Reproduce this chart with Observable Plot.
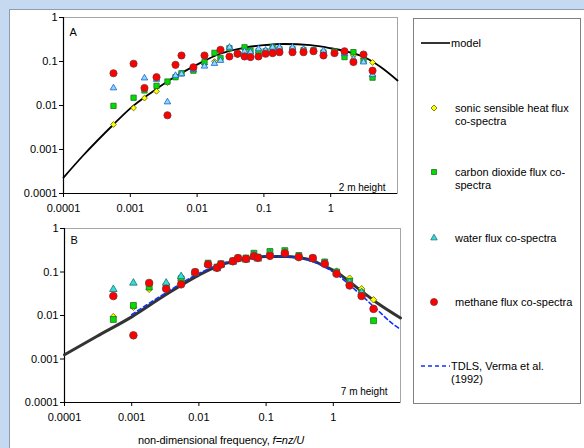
<!DOCTYPE html>
<html><head><meta charset="utf-8">
<script src="https://cdn.jsdelivr.net/npm/d3@7"></script>
<script src="https://cdn.jsdelivr.net/npm/@observablehq/plot@0.6"></script>
<style>
html,body{margin:0;padding:0;}
body{width:584px;height:448px;background:#c5d9f1;position:relative;overflow:hidden;font-family:"Liberation Sans",Arial,sans-serif;}
#sheet{position:absolute;left:9px;top:9px;width:600px;height:460px;background:#fff;border-left:1px solid #8e9bb0;border-top:1px solid #8e9bb0;}
.abs{position:absolute;}
#xt{position:absolute;left:0;width:442px;text-align:center;top:434px;font-size:11px;line-height:13px;color:#000;white-space:nowrap;letter-spacing:-0.1px;}
</style></head><body>
<div id="sheet"></div>
<div id="pa" class="abs" style="left:0;top:0"></div>
<div id="pb" class="abs" style="left:0;top:215px"></div>
<div id="leg" class="abs" style="left:0;top:0"></div>
<div id="xt">non-dimensional frequency, <i>f=nz/U</i></div>
<script>
// ---------- data ----------
const seriesNames = ["model", "sonic sensible heat flux co-spectra", "carbon dioxide flux co-spectra", "water flux co-spectra", "methane flux co-spectra", "TDLS, Verma et al. (1992)"];
const tickValues = [1e-4, 1e-3, 1e-2, 0.1, 1];
const tickLabels = ["0.0001", "0.001", "0.01", "0.1", "1"];
const panelLabels = ["A", "B"];
const heightLabels = ["2 m height", "7 m height"];

// Panel A (2 m)
const freqA = [5.6e-4, 1.12e-3, 1.63e-3, 2.47e-3, 3.6e-3, 4.75e-3, 5.84e-3, 8.8e-3, 0.0129, 0.0182, 0.0224, 0.0305, 0.0403, 0.0513, 0.063, 0.083, 0.106, 0.135, 0.171, 0.268, 0.392, 0.553, 0.78, 1.14, 1.61, 2.19, 3.10, 4.23];
const sonicA = [0.0037, 0.0088, 0.0147, 0.021, 0.033, 0.045, 0.055, 0.07, 0.085, 0.1, 0.115, 0.13, 0.14, 0.15, 0.155, 0.16, 0.165, 0.175, 0.18, 0.18, 0.18, 0.175, 0.17, 0.16, 0.15, 0.135, 0.115, 0.095];
const co2A = [0.0098, 0.015, 0.022, 0.028, 0.035, 0.044, 0.054, 0.062, 0.096, 0.157, 0.12, 0.2, 0.15, 0.21, 0.178, 0.17, 0.17, 0.21, 0.19, 0.19, 0.18, 0.18, 0.16, 0.17, 0.126, 0.163, 0.105, 0.043];
const waterA = [0.025, null, 0.042, 0.039, 0.012, 0.048, 0.052, 0.065, 0.078, 0.09, 0.105, 0.21, 0.15, 0.17, 0.163, 0.194, 0.18, 0.21, 0.21, 0.21, 0.19, 0.18, 0.175, 0.16, 0.15, 0.115, 0.097, 0.05];
const ch4A = [0.054, 0.089, 0.025, 0.044, 0.006, 0.084, 0.137, 0.074, 0.137, null, 0.184, 0.13, 0.15, 0.13, 0.126, 0.13, 0.15, 0.155, 0.163, 0.163, 0.163, 0.171, 0.137, 0.155, 0.171, 0.097, 0.144, 0.062];
const modelAf = [1e-4, 2e-4, 5.6e-4, 1e-3, 2e-3, 4e-3, 1e-2, 0.022, 0.05, 0.1, 0.2, 0.5, 1, 2, 3.2, 5.6, 10];
const modelAv = [2.3e-4, 7.5e-4, 3.7e-3, 8.6e-3, 0.019, 0.039, 0.085, 0.15, 0.205, 0.235, 0.25, 0.235, 0.2, 0.16, 0.125, 0.075, 0.037];

// Panel B (7 m)
const freqB = [5.33e-4, 1.06e-3, 1.82e-3, 3.26e-3, 5.44e-3, 8.79e-3, 0.0137, 0.0186, 0.0213, 0.0321, 0.0382, 0.0502, 0.0659, 0.0756, 0.114, 0.19, 0.307, 0.495, 0.745, 1.12, 1.75, 2.64, 3.97];
const sonicB = [0.0094, 0.0155, 0.04, 0.043, 0.065, 0.095, 0.15, 0.12, 0.145, 0.17, 0.2, 0.2, 0.25, 0.21, 0.27, 0.29, 0.23, 0.2, 0.165, 0.105, 0.072, 0.041, 0.023];
const co2B = [0.0081, 0.017, 0.045, 0.047, 0.07, 0.1, 0.16, 0.13, 0.155, 0.18, 0.21, 0.21, 0.27, 0.22, 0.296, 0.31, 0.24, 0.21, 0.17, 0.1, 0.061, 0.033, 0.0076];
const waterB = [0.04, 0.056, null, 0.056, 0.079, 0.095, 0.15, 0.12, 0.145, 0.17, 0.2, 0.19, 0.25, 0.2, 0.26, 0.28, 0.22, 0.2, 0.16, 0.095, 0.058, 0.034, null];
const ch4B = [0.028, 0.0035, 0.056, 0.041, 0.052, 0.099, 0.149, 0.125, 0.149, 0.177, 0.208, 0.2, 0.231, 0.212, 0.235, 0.27, 0.22, 0.208, 0.154, 0.091, 0.049, 0.028, 0.0142];
const modelBf = [1e-4, 3e-4, 1e-3, 3e-3, 1e-2, 0.02, 0.035, 0.06, 0.1, 0.2, 0.3, 0.5, 0.75, 1.12, 2.2, 4.4, 10];
const modelBv = [0.00125, 0.0033, 0.0093, 0.028, 0.085, 0.14, 0.18, 0.21, 0.228, 0.228, 0.215, 0.18, 0.135, 0.099, 0.045, 0.02, 0.0088];
const tdlsF = [1e-3, 3e-3, 1e-2, 0.03, 0.06, 0.1, 0.2, 0.63, 1.12, 2.2, 4.4, 7.7, 10];
const tdlsV = [0.0105, 0.031, 0.093, 0.18, 0.22, 0.235, 0.225, 0.15, 0.088, 0.037, 0.014, 0.0064, 0.0048];

// ---------- helpers ----------
const rows = (fs, vs) => fs.map((f, i) => ({f, v: vs[i]})).filter(d => d.v != null);
const fmt = d => { const i = tickValues.findIndex(t => Math.abs(Math.log10(t) - Math.log10(d)) < 1e-6); return i >= 0 ? tickLabels[i] : ""; };

const styleFor = {
  sonic: {symbol: "square", rotate: 45, fill: "#ffff00", stroke: "#6b6b00"},
  co2: {symbol: "square", rotate: 0, fill: "#00e000", stroke: "#1f6f1f"},
  waterA: {symbol: "triangle", rotate: 0, fill: "#8fd8ff", stroke: "#1060d0"},
  waterB: {symbol: "triangle", rotate: 0, fill: "#33dddd", stroke: "#1f6f6f"},
  ch4: {symbol: "circle", rotate: 0, fill: "#ff0000", stroke: "#7a3030"}
};

function panel(o) {
  const dots = (data, st, r) => Plot.dot(data, {x: "f", y: "v", r, symbol: st.symbol, rotate: st.rotate, fill: st.fill, stroke: st.stroke, strokeWidth: 0.8});
  return Plot.plot({
    width: 410, height: o.height,
    marginLeft: o.ml, marginRight: o.mr, marginTop: o.mt, marginBottom: o.mb,
    style: {background: "transparent", fontFamily: "'Liberation Sans', Arial, sans-serif", fontSize: "11px", color: "#000", overflow: "visible"},
    x: {type: "log", domain: [1e-4, 10]},
    y: {type: "log", domain: [1e-4, 1]},
    marks: [
      Plot.frame({stroke: "#a6a6a6"}),
      Plot.ruleX([1e-4], {stroke: "#000", strokeWidth: 1.2}),
      Plot.ruleY([1e-4], {stroke: "#000", strokeWidth: 1.2}),
      Plot.axisX({ticks: tickValues, tickFormat: fmt, tickSize: 4, tickPadding: 7, label: null, stroke: "#000"}),
      Plot.axisY({ticks: tickValues, tickFormat: fmt, tickSize: 4, tickPadding: 2, label: null, stroke: "#000"}),
      ...o.lines,
      dots(o.sonic, styleFor.sonic, o.rs[0]),
      dots(o.co2, styleFor.co2, o.rs[1]),
      dots(o.water, o.waterStyle, o.rs[2]),
      dots(o.ch4, styleFor.ch4, o.rs[3]),
      Plot.text([o.label], {frameAnchor: "top-left", dx: 6, dy: o.labelDy, lineAnchor: "middle", fontSize: 11}),
      Plot.text([o.hlabel], {frameAnchor: "bottom-right", dx: o.hdx, dy: o.hdy, lineAnchor: "bottom", textAnchor: "end", fontSize: 10})
    ]
  });
}

const A = panel({
  height: 220, ml: 63, mr: 13, mt: 17, mb: 27,
  lines: [Plot.line(rows(modelAf, modelAv), {x: "f", y: "v", curve: "monotone-x", stroke: "#000", strokeWidth: 1.8})],
  sonic: rows(freqA, sonicA), co2: rows(freqA, co2A), water: rows(freqA, waterA), ch4: rows(freqA, ch4A),
  waterStyle: styleFor.waterA, rs: [2.3, 3.0, 2.4, 3.6],
  label: panelLabels[0], labelDy: 15, hlabel: heightLabels[0], hdx: -12, hdy: -3
});
document.getElementById("pa").appendChild(A);

const B = panel({
  height: 233, ml: 64, mr: 10, mt: 13, mb: 46,
  lines: [
    Plot.line(rows(modelBf, modelBv), {x: "f", y: "v", curve: "monotone-x", stroke: "#333", strokeWidth: 3}),
    Plot.line(rows(tdlsF, tdlsV), {x: "f", y: "v", curve: "monotone-x", stroke: "#1030ff", strokeWidth: 1.6, strokeDasharray: "4,3"})
  ],
  sonic: rows(freqB, sonicB), co2: rows(freqB, co2B), water: rows(freqB, waterB), ch4: rows(freqB, ch4B),
  waterStyle: styleFor.waterB, rs: [2.6, 3.3, 2.8, 3.8],
  label: panelLabels[1], labelDy: 11.5, hlabel: heightLabels[1], hdx: -13, hdy: -8
});
document.getElementById("pb").appendChild(B);

// ---------- legend ----------
const svg = d3.select("#leg").append("svg").attr("width", 584).attr("height", 448).style("display", "block");
svg.append("rect").attr("x", 413.5).attr("y", 18.5).attr("width", 167).attr("height", 385)
  .attr("fill", "#fff").attr("stroke", "#808080");
const leg = [
  {type: "line", y: 43, lines: [seriesNames[0]], stroke: "#000", dash: null},
  {type: "sym", y: 108, lines: ["sonic sensible heat flux", "co-spectra"], st: styleFor.sonic, r: 2.4},
  {type: "sym", y: 172, lines: ["carbon dioxide flux co-", "spectra"], st: styleFor.co2, r: 2.8},
  {type: "sym", y: 238, lines: [seriesNames[3]], st: styleFor.waterB, r: 2.4},
  {type: "sym", y: 302, lines: [seriesNames[4]], st: styleFor.ch4, r: 3.5}
  ,{type: "line", y: 366, lines: ["TDLS, Verma et al.", "(1992)"], stroke: "#1030ff", dash: "4,3"}
];
const symMap = {square: d3.symbolSquare, triangle: d3.symbolTriangle, circle: d3.symbolCircle};
leg.forEach(e => {
  let tx;
  if (e.type === "line") {
    svg.append("line").attr("x1", 421).attr("x2", 450).attr("y1", e.y).attr("y2", e.y)
      .attr("stroke", e.stroke).attr("stroke-width", 1.6).attr("stroke-dasharray", e.dash);
    tx = 451;
  } else {
    svg.append("path").attr("transform", `translate(434,${e.y}) rotate(${e.st.rotate})`)
      .attr("d", d3.symbol(symMap[e.st.symbol], e.r * e.r * Math.PI)())
      .attr("fill", e.st.fill).attr("stroke", e.st.stroke).attr("stroke-width", 0.8);
    tx = 455;
  }
  e.lines.forEach((t, k) => {
    svg.append("text").attr("x", tx).attr("y", e.y + 4 + k * 13).text(t)
      .attr("font-family", "'Liberation Sans', Arial, sans-serif").attr("font-size", 11).attr("fill", "#000");
  });
});
</script>
</body></html>
